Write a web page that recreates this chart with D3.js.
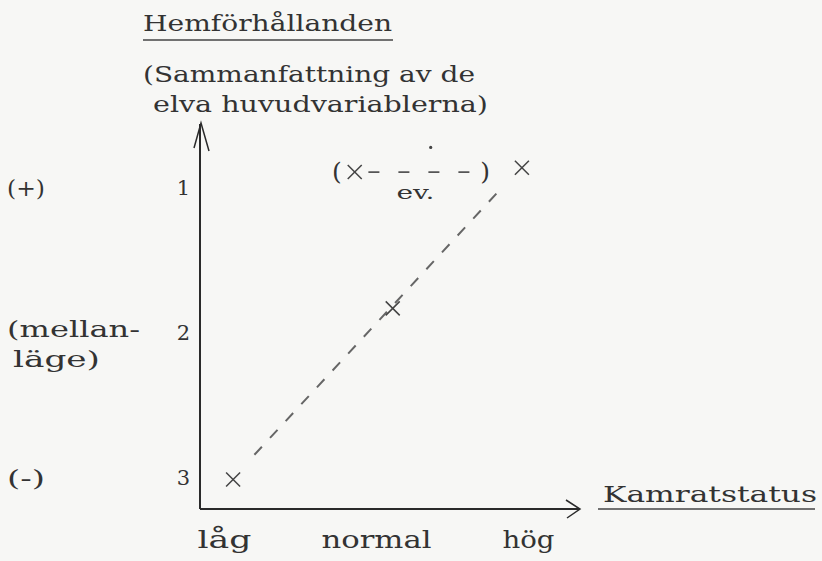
<!DOCTYPE html>
<html>
<head>
<meta charset="utf-8">
<script src="https://cdn.jsdelivr.net/npm/d3@7"></script>
<style>
  body { margin: 0; background: #f7f7f5; }
  svg { display: block; }
  text { font-family: "DejaVu Serif", serif; fill: #333; }
</style>
</head>
<body>
<script>
var width = 822,
    height = 561;

// kamratstatus categories (x) and home-conditions levels (y)
var xCategories = ["låg", "normal", "hög"];
var yTicks = [1, 2, 3];
var yLevelLabels = [["(+)"], ["(mellan-", "läge)"], ["(-)"]];

// observed points, x in category units (0 = låg, 2 = hög), y in level units
var pointX = [0.06, 1.11, 1.96];
var pointY = [3.01, 1.83, 0.86];

// the bracketed "ev." point
var evX = [0.86];
var evY = [0.89];

// dashed trend from låg to hög
var trendX = [0.20, 1.80];
var trendY = [2.84, 1.03];

// dashed horizontal from the ev. point
var evLineX = [0.95, 1.62];

var x = d3.scaleLinear().domain([0, 2]).range([224, 528]);
var y = d3.scaleLinear().domain([1, 3]).range([188, 478]);

var originX = 200, originY = 509;

var svg = d3.select("body")
    .append("svg")
    .attr("width", width)
    .attr("height", height);

svg.append("rect")
    .attr("width", width)
    .attr("height", height)
    .attr("fill", "#f7f7f5");

// stretched text helper, the typewriter face is much wider than anything installed
function label(txt, px, py, len, size, anchor) {
    return svg.append("text")
        .attr("x", px)
        .attr("y", py)
        .attr("font-size", size)
        .attr("text-anchor", anchor || "start")
        .attr("textLength", len)
        .attr("lengthAdjust", "spacingAndGlyphs")
        .text(txt);
}

// titles
label("Hemförhållanden", 143, 31, 249, 22);
svg.append("line")
    .attr("x1", 143).attr("x2", 393)
    .attr("y1", 40).attr("y2", 40)
    .attr("stroke", "#444").attr("stroke-width", 1.6);
label("(Sammanfattning av de", 143, 82, 332, 22);
label("elva huvudvariablerna)", 153, 112, 335, 22);

label("Kamratstatus", 603, 502, 214, 23);
svg.append("line")
    .attr("x1", 598).attr("x2", 815)
    .attr("y1", 509).attr("y2", 509)
    .attr("stroke", "#444").attr("stroke-width", 1.6);

// axis lines with open arrowheads
var axes = svg.append("g")
    .attr("fill", "none")
    .attr("stroke", "#2a2a2a")
    .attr("stroke-width", 2);

axes.append("path")
    .attr("d", "M" + originX + "," + originY + "V124");
axes.append("path")
    .attr("stroke-width", 1.5)
    .attr("d", "M194,148L201,123L209,151");
axes.append("path")
    .attr("d", "M" + originX + "," + originY + "H580");
axes.append("path")
    .attr("stroke-width", 1.5)
    .attr("d", "M566,500L580,509L567,518");

// y ticks
var yAxis = svg.append("g")
    .attr("transform", "translate(" + originX + ",0)")
    .call(d3.axisLeft(y).tickValues(yTicks).tickSize(0).tickPadding(10).tickFormat(d3.format("d")));
yAxis.select(".domain").remove();
yAxis.selectAll("text")
    .attr("font-family", "DejaVu Serif")
    .attr("font-size", 21)
    .attr("fill", "#333");

// level descriptions at far left
yTicks.forEach(function(t, i) {
    var lines = yLevelLabels[i];
    lines.forEach(function(l, j) {
        var len = l.length === 3 ? 38 : (j === 0 ? 133 : 87);
        var xx = j === 0 ? 7 : 13;
        label(l, xx, y(t) + 8 + j * 30 - (lines.length > 1 ? 4 : 0), len, 23);
    });
});

// x category labels
var xAxis = svg.append("g")
    .attr("transform", "translate(0," + originY + ")")
    .call(d3.axisBottom(x).tickValues([0, 1, 2]).tickSize(0).tickPadding(22)
        .tickFormat(function(d) { return xCategories[d]; }));
xAxis.select(".domain").remove();
xAxis.selectAll("text")
    .attr("font-family", "DejaVu Serif")
    .attr("font-size", 24)
    .attr("fill", "#333")
    .attr("textLength", function(d) { return [54, 110, 52][d]; })
    .attr("lengthAdjust", "spacingAndGlyphs");

// dashed trend line
svg.append("path")
    .datum(d3.zip(trendX, trendY))
    .attr("d", d3.line().x(function(d) { return x(d[0]); }).y(function(d) { return y(d[1]); }))
    .attr("fill", "none")
    .attr("stroke", "#666")
    .attr("stroke-width", 2)
    .attr("stroke-dasharray", "11 12");

// ev. horizontal dashes
svg.append("line")
    .attr("x1", x(evLineX[0])).attr("x2", x(evLineX[1]))
    .attr("y1", y(evY[0])).attr("y2", y(evY[0]))
    .attr("stroke", "#555")
    .attr("stroke-width", 1.8)
    .attr("stroke-dasharray", "11 19");

// brackets and the ev. note
svg.append("text")
    .attr("x", x(evX[0]) - 13).attr("y", y(evY[0]) + 8)
    .attr("font-size", 25).attr("text-anchor", "end")
    .text("(");
svg.append("text")
    .attr("x", x(evLineX[1]) + 10).attr("y", y(evY[0]) + 8)
    .attr("font-size", 25)
    .text(")");
svg.append("text")
    .attr("x", x(1.26)).attr("y", y(evY[0]) + 27)
    .attr("font-size", 19).attr("text-anchor", "middle")
    .attr("textLength", 38).attr("lengthAdjust", "spacingAndGlyphs")
    .text("ev.");
svg.append("circle")
    .attr("cx", x(1.36)).attr("cy", y(0.72))
    .attr("r", 1.6)
    .attr("fill", "#444");

// cross marks
function crosses(xs, ys, size, cls) {
    var g = svg.selectAll("g." + cls)
        .data(d3.zip(xs, ys))
        .enter()
        .append("g")
        .attr("class", cls)
        .attr("transform", function(d) { return "translate(" + x(d[0]) + "," + y(d[1]) + ")"; })
        .attr("stroke", "#444")
        .attr("stroke-width", 1.5);
    g.append("line").attr("x1", -size).attr("y1", -size).attr("x2", size).attr("y2", size);
    g.append("line").attr("x1", -size).attr("y1", size).attr("x2", size).attr("y2", -size);
}
crosses(pointX, pointY, 7, "pt");
crosses(evX, evY, 7, "ev");
</script>
</body>
</html>
